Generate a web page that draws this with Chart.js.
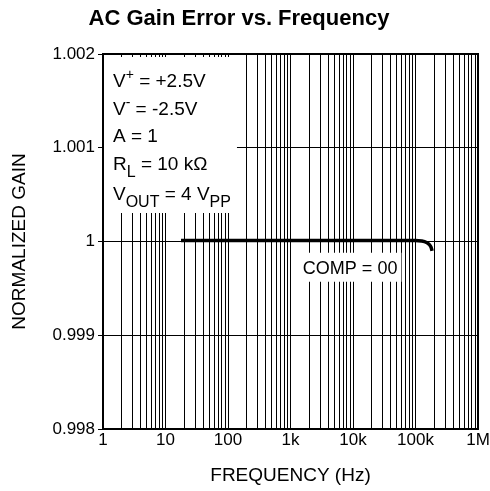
<!DOCTYPE html>
<html>
<head>
<meta charset="utf-8">
<script src="https://cdn.jsdelivr.net/npm/chart.js@4.4.0/dist/chart.umd.min.js"></script>
<style>
  html, body { margin: 0; padding: 0; background: #fff; }
  #wrap { width: 490px; height: 491px; }
</style>
</head>
<body>
<div id="wrap"><canvas id="chart" width="490" height="491"></canvas></div>
<script>
// data
const freqHz = [17.7, 100, 1000, 10000, 100000, 125000, 150000, 165000, 177000, 184000];
const gainComp00 = [1.00001, 1.00001, 1.00001, 1.00001, 1.00001, 1.000005, 0.99999, 0.99997, 0.99994, 0.9999];

const xDecades = [1, 10, 100, 1000, 10000, 100000, 1000000];
const xTickLabels = ["1", "10", "100", "1k", "10k", "100k", "1M"];
const yTickLabels = ["0.998", "0.999", "1", "1.001", "1.002"];

const FONT = "Arial, 'Liberation Sans', Helvetica, sans-serif";

// grid lines at 1..9 of every decade
const xGridValues = [];
for (let d = 0; d < xDecades.length - 1; d++) {
  for (let m = 1; m < 10; m++) xGridValues.push(xDecades[d] * m);
}
xGridValues.push(xDecades[xDecades.length - 1]);

// conditions box text, drawn as runs [text, size, yShift]
const condLines = [
  [["V", 19, 0], ["+", 14, -8], [" = +2.5V", 19, 0]],
  [["V", 19, 0], ["-", 14, -8], [" = -2.5V", 19, 0]],
  [["A = 1", 19, 0]],
  [["R", 19, 0], ["L", 16, 7], [" = 10 k\u03A9", 19, 0]],
  [["V", 19, 0], ["OUT", 16, 7], [" = 4 V", 19, 0], ["PP", 16, 7]],
];
const condBaselines = [33, 61, 88, 116, 146];

const curveLabel = "COMP = 00";

const drawRuns = (ctx, runs, x, y) => {
  runs.forEach(([t, size, dy]) => {
    ctx.font = size + "px " + FONT;
    ctx.fillText(t, x, y + dy);
    x += ctx.measureText(t).width;
  });
  return x;
};

const decorPlugin = {
  id: "decor",
  beforeDatasetsDraw(chart) {
    const { ctx, chartArea: ca, scales } = chart;
    ctx.save();
    ctx.textBaseline = "alphabetic";
    ctx.textAlign = "left";

    // measure conditions text for the white box
    let maxEnd = 0;
    condLines.forEach((runs) => {
      let x = ca.left + 10;
      runs.forEach(([t, size]) => {
        ctx.font = size + "px " + FONT;
        x += ctx.measureText(t).width;
      });
      maxEnd = Math.max(maxEnd, x);
    });
    ctx.fillStyle = "#fff";
    ctx.fillRect(ca.left, ca.top + 3, maxEnd + 6 - ca.left, 156);

    ctx.fillStyle = "#000";
    condLines.forEach((runs, i) => drawRuns(ctx, runs, ca.left + 10, ca.top + condBaselines[i]));

    // curve label
    ctx.font = "18px " + FONT;
    const cx = scales.x.getPixelForValue(9000);
    const cy = scales.y.getPixelForValue(0.99972);
    const w = ctx.measureText(curveLabel).width;
    ctx.fillStyle = "#fff";
    ctx.fillRect(cx - w / 2 - 4, cy - 15, w + 8, 29);
    ctx.fillStyle = "#000";
    ctx.textAlign = "center";
    ctx.textBaseline = "middle";
    ctx.fillText(curveLabel, cx, cy + 1);
    ctx.restore();
  },
  afterDraw(chart) {
    const { ctx, chartArea: ca } = chart;
    ctx.save();
    ctx.strokeStyle = "#000";
    ctx.lineWidth = 2;
    ctx.strokeRect(ca.left, ca.top, ca.right - ca.left, ca.bottom - ca.top);
    ctx.restore();
  },
};

new Chart(document.getElementById("chart"), {
  type: "line",
  data: {
    datasets: [
      {
        label: curveLabel,
        data: freqHz.map((f, i) => ({ x: f, y: gainComp00[i] })),
        borderColor: "#000",
        borderWidth: 3.5,
        pointRadius: 0,
        cubicInterpolationMode: "monotone",
        fill: false,
      },
    ],
  },
  options: {
    responsive: false,
    animation: false,
    layout: { padding: { left: 0, right: 12, top: 0, bottom: 0 } },
    plugins: {
      legend: { display: false },
      tooltip: { enabled: false },
      title: {
        display: true,
        text: "AC Gain Error vs. Frequency",
        color: "#000",
        font: { family: FONT, size: 22, weight: "bold" },
        padding: { top: 6, bottom: 21.6 },
      },
    },
    scales: {
      x: {
        type: "logarithmic",
        min: 1,
        max: 1000000,
        afterBuildTicks: (scale) => {
          scale.ticks = xGridValues.map((v) => ({ value: v }));
        },
        afterFit: (scale) => {
          scale.height = 62;
          scale.paddingLeft = 0;
          scale.paddingRight = 0;
        },
        ticks: {
          autoSkip: false,
          maxRotation: 0,
          minRotation: 0,
          padding: 1,
          color: "#000",
          font: { family: FONT, size: 17 },
          callback: (value) => {
            const i = xDecades.indexOf(value);
            return i >= 0 ? xTickLabels[i] : "";
          },
        },
        grid: { color: "#000", lineWidth: 1, drawTicks: false },
        border: { display: false },
        title: {
          display: true,
          text: "FREQUENCY (Hz)",
          color: "#000",
          font: { family: FONT, size: 19 },
          padding: { top: 0, bottom: 4 },
        },
      },
      y: {
        min: 0.998,
        max: 1.002,
        afterFit: (scale) => {
          scale.width = 103;
          scale.paddingTop = 0;
          scale.paddingBottom = 0;
        },
        ticks: {
          stepSize: 0.001,
          padding: 3,
          color: "#000",
          font: { family: FONT, size: 17 },
          callback: (value, index) => yTickLabels[index],
        },
        grid: { color: "#000", lineWidth: 1, tickLength: 5 },
        border: { display: false },
        title: {
          display: true,
          text: "NORMALIZED GAIN",
          color: "#000",
          font: { family: FONT, size: 19 },
          padding: { top: 8, bottom: 0 },
        },
      },
    },
  },
  plugins: [decorPlugin],
});
</script>
</body>
</html>
